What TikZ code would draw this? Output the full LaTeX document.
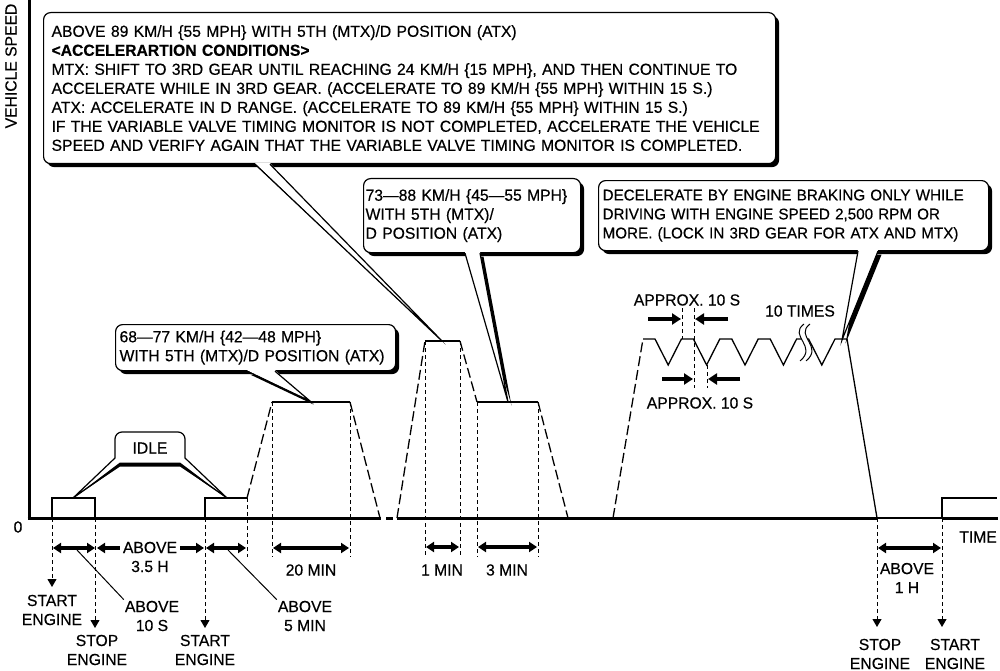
\documentclass[tikz,border=0pt]{standalone}
\usepackage{fontspec}
\setmainfont[FakeStretch=0.98, FakeBold=0.4]{Liberation Sans}
\usetikzlibrary{arrows.meta,shadows}
\newcommand{\fs}{\fontsize{16}{19}\selectfont\hyphenpenalty=10000}
\newcommand{\fsdec}{\fontsize{15.5}{19}\selectfont\hyphenpenalty=10000}
\tikzset{
  axisline/.style={line width=3pt},
  prof/.style={line width=1.3pt},
  profdash/.style={prof, dash pattern=on 10pt off 4pt},
  guide/.style={line width=1pt, dash pattern=on 4pt off 3pt},
  downarr/.style={guide, -{Triangle[width=9pt,length=8pt]}},
  dimarr/.style={line width=3.5pt, {Triangle[width=10pt,length=8pt]}-{Triangle[width=10pt,length=8pt]}},
  pointarr/.style={line width=4pt, -{Triangle[width=11pt,length=9pt]}},
  leader/.style={line width=1pt},
  lbl/.style={font=\fs, align=center, inner sep=1pt},
  callbox/.style={draw, line width=1.2pt, fill=white, rounded corners=7pt,
                  anchor=north west, align=left, font=\fs, inner ysep=0pt,
                  general shadow={fill=black, shadow xshift=3.5pt, shadow yshift=-3.5pt}}
}
\begin{document}
\begin{tikzpicture}[x=1pt, y=-1pt, font=\fs]
  \useasboundingbox[fill=white] (0,0) rectangle (1000,671);
  % axes
  \draw[axisline] (29,0) -- (29,519.5);
  \draw[axisline] (27.5,518) -- (381,518);
  \draw[axisline] (386,518) -- (393,518);
  \draw[axisline] (397,518) -- (877,518);
  \draw[line width=1.6pt] (877,518) -- (942,518);
  \draw[axisline] (942,518) -- (998,518);
  \node[lbl, rotate=90] (vs) at (11,66) {VEHICLE SPEED};
  \node[lbl] (zero) at (18,527) {0};
  \node[lbl] (time) at (978,537) {TIME};
  % speed profile
  \draw[prof] (52,518) -- (52,498) -- (95,498) -- (95,518);
  \draw[prof] (205,518) -- (205,498) -- (247,498);
  \draw[profdash] (247,498) -- (272,402);
  \draw[prof] (272,402) -- (350,402);
  \draw[profdash] (350,402) -- (380,518);
  \draw[profdash] (397,518) -- (425,341);
  \draw[prof] (425,341) -- (460,341);
  \draw[profdash] (460,341) -- (477,402);
  \draw[prof] (477,402) -- (538,402);
  \draw[profdash] (538,402) -- (568,518);
  \draw[profdash] (613,518) -- (643,339);
  \draw[prof] (643,339) \foreach \k in {0,...,4} { -- ++(12,0) -- ++(13.2,26) -- ++(13.2,-26) }
    -- ++(12,0) -- (877,518);
  \draw[prof] (942,518) -- (942,498) -- (997,498);
  % break mark
  \fill[white] (804,324) .. controls (788,336) and (818,346) .. (800,361)
    -- (806,361) .. controls (824,346) and (794,336) .. (810,324) -- cycle;
  \draw[line width=1pt] (804,324) .. controls (788,336) and (818,346) .. (800,361);
  \draw[line width=1pt] (810,324) .. controls (794,336) and (824,346) .. (806,361);
  \node[lbl] (times) at (800,311) {10 TIMES};
  % guides
  \draw[downarr] (52,518) -- (52,587);
  \draw[downarr] (95,518) -- (95,628);
  \draw[downarr] (205,518) -- (205,628);
  \draw[downarr] (877,518) -- (877,627);
  \draw[downarr] (942,518) -- (942,627);
  \draw[guide] (247,498) -- (247,557);
  \foreach \x/\y in {272/402, 350/402, 425/341, 460/341, 477/402, 538/402}
    \draw[guide] (\x,\y) -- (\x,557);
  % durations
  \draw[dimarr] (53,548) -- (95,548);
  \draw[dimarr] (97,548) -- (204,548);
  \draw[dimarr] (206,548) -- (246,548);
  \draw[dimarr] (273,548) -- (349,548);
  \draw[dimarr] (426,547) -- (459,547);
  \draw[dimarr] (478,547) -- (537,547);
  \draw[dimarr] (878,548) -- (941,548);
  \node[lbl, fill=white, inner xsep=3pt] (h35) at (150,557) {ABOVE\\3.5 H};
  \node[lbl] (m20) at (311,570) {20 MIN};
  \node[lbl] (m1) at (442,570) {1 MIN};
  \node[lbl] (m3) at (507,570) {3 MIN};
  \node[lbl] (h1) at (907,578) {ABOVE\\1 H};
  \node[lbl] (s10) at (152,616) {ABOVE\\10 S};
  \node[lbl] (m5) at (305,616) {ABOVE\\5 MIN};
  \draw[leader] (77,550) -- (s10.north west);
  \draw[leader] (228,550) -- (m5.north west);
  \node[lbl] (start1) at (52,610) {START\\ENGINE};
  \node[lbl] (stop1) at (97,650) {STOP\\ENGINE};
  \node[lbl] (start2) at (205,650) {START\\ENGINE};
  \node[lbl] (stop2) at (880,654) {STOP\\ENGINE};
  \node[lbl] (start3) at (955,654) {START\\ENGINE};
  % approx 10 s marks
  \draw[guide] (682,308) -- (682,339);
  \draw[guide] (694,308) -- (694,388);
  \draw[guide] (707,365) -- (707,388);
  \draw[pointarr] (648,319) -- (681,319);
  \draw[pointarr] (728,319) -- (695,319);
  \draw[pointarr] (662,379) -- (693,379);
  \draw[pointarr] (740,379) -- (708,379);
  \node[lbl] (ap1) at (687,300) {APPROX. 10 S};
  \node[lbl] (ap2) at (700,403) {APPROX. 10 S};
  % idle callout
  \draw[line width=1.2pt, fill=white] (73,498) -- (115,458) -- (115,439)
    arc[start angle=180, end angle=90, radius=7pt] -- (178,432)
    arc[start angle=90, end angle=0, radius=7pt] -- (185,458) -- (227,498)
    -- (180,465) -- (120,465) -- cycle;
  \fill (73,498) -- (120,462.5) -- (180,462.5) -- (227,498) -- (180,466.5) -- (120,466.5) -- cycle;
  \node[lbl] (idle) at (150,448) {IDLE};
  % callouts
  \node[callbox, text width=716pt, inner xsep=8pt, minimum height=151pt] (big) at (43,12)
    {ABOVE 89 KM/H \{55 MPH\} WITH 5TH (MTX)/D POSITION (ATX)\\
     \textbf{<ACCELERARTION CONDITIONS>}\\
     MTX: SHIFT TO 3RD GEAR UNTIL REACHING 24 KM/H \{15 MPH\}, AND THEN CONTINUE TO\\
     ACCELERATE WHILE IN 3RD GEAR. (ACCELERATE TO 89 KM/H \{55 MPH\} WITHIN 15 S.)\\
     ATX: ACCELERATE IN D RANGE. (ACCELERATE TO 89 KM/H \{55 MPH\} WITHIN 15 S.)\\
     IF THE VARIABLE VALVE TIMING MONITOR IS NOT COMPLETED, ACCELERATE THE VEHICLE\\
     SPEED AND VERIFY AGAIN THAT THE VARIABLE VALVE TIMING MONITOR IS COMPLETED.};
  \node[callbox, text width=213pt, inner xsep=2pt, minimum height=74pt] (b73) at (363,178)
    {73—88 KM/H \{45—55 MPH\}\\WITH 5TH (MTX)/\\D POSITION (ATX)};
  \node[callbox, text width=382pt, inner xsep=4pt, minimum height=70pt, font=\fsdec] (bdec) at (598,180)
    {DECELERATE BY ENGINE BRAKING ONLY WHILE\\DRIVING WITH ENGINE SPEED 2,500 RPM OR\\MORE. (LOCK IN 3RD GEAR FOR ATX AND MTX)};
  \node[callbox, text width=272pt, inner xsep=4pt, minimum height=46pt] (b68) at (115,324)
    {68—77 KM/H \{42—48 MPH\}\\WITH 5TH (MTX)/D POSITION (ATX)};
  \coordinate (tbig) at (442,341);
  \coordinate (t73) at (508,402);
  \coordinate (tdec) at (842,340);
  \coordinate (t68) at (310,401);
  \foreach \n/\a/\w/\t in {big/212/15/tbig, b73/102/15/t73, bdec/260/20/tdec, b68/132/28/t68} {
    \fill ([shift={(\a pt+3.5pt,-3.5pt)}]\n.south west) -- ([shift={(3.5pt,-3.5pt)}]\t)
      -- ([shift={(\a pt+\w pt+3.5pt,-3.5pt)}]\n.south west) -- cycle;
    \fill[white] ([shift={(\a pt,1pt)}]\n.south west) -- (\t)
      -- ([shift={(\a pt+\w pt,1pt)}]\n.south west) -- cycle;
    \draw[line width=1.2pt] ([xshift=\a pt]\n.south west) -- (\t)
      -- ([xshift=\a pt+\w pt]\n.south west);
  }
\end{tikzpicture}
\end{document}
